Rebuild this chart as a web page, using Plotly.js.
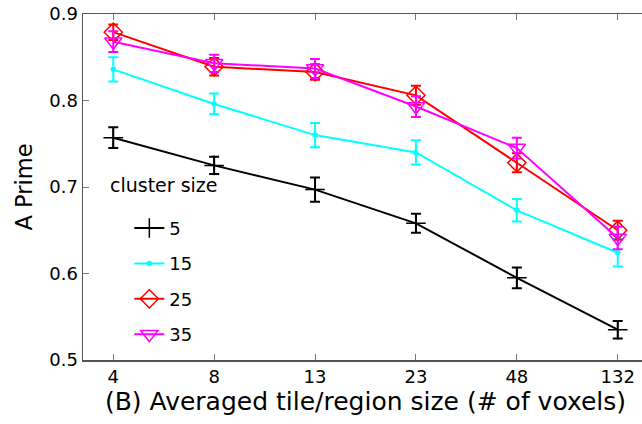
<!DOCTYPE html>
<html><head><meta charset="utf-8">
<script src="https://cdn.plot.ly/plotly-3.0.1.min.js"></script>
<style>html,body{margin:0;padding:0;overflow:hidden;background:#fff;}</style>
</head><body><div id="chart"></div>
<script>
const categories = ["4","8","13","23","48","132"];
const seriesNames = ["5","15","25","35"];
const vals5  = [0.757,0.725,0.697,0.658,0.595,0.535];
const err5   = [0.012,0.010,0.014,0.011,0.012,0.010];
const vals15 = [0.836,0.796,0.760,0.740,0.673,0.624];
const err15  = [0.014,0.012,0.014,0.014,0.013,0.016];
const vals25 = [0.879,0.839,0.833,0.806,0.728,0.650];
const err25  = [0.009,0.010,0.009,0.011,0.011,0.011];
const vals35 = [0.868,0.843,0.837,0.793,0.745,0.641];
const err35  = [0.012,0.010,0.011,0.012,0.012,0.013];
const yTicks = [0.5,0.6,0.7,0.8,0.9];
const legendTitle = "cluster size";

const colors = ["#000000","#00ffff","#ff0000","#ff00ff"];
const symbols = ["cross-thin-open","circle","diamond-open","triangle-down-open"];
const sizes = [14,4,14,15];
const vals = [vals5,vals15,vals25,vals35];
const errs = [err5,err15,err25,err35];

const traces = seriesNames.map((n,i)=>({
  type:"scatter", mode:"lines+markers", name:n, x:categories, y:vals[i],
  legendgroup:"g"+i,
  line:{color:colors[i], width:2},
  marker:{symbol:symbols[i], size:sizes[i], color:colors[i], line:{color:colors[i], width:1.5}},
  error_y:{type:"data", array:errs[i], visible:true, color:colors[i], thickness:2, width:5}
}));

const fnt = "DejaVu Sans, sans-serif";
const layout = {
  width:660, height:424,
  margin:{l:83, r:12, t:14, b:64},
  paper_bgcolor:"#fff", plot_bgcolor:"#fff",
  font:{family:fnt, color:"#000"},
  showlegend:true,
  legend:{x:0.082, y:0.434, xanchor:"left", yanchor:"top", bgcolor:"rgba(0,0,0,0)",
    font:{size:18, family:fnt}, tracegroupgap:9},
  annotations:[{text:legendTitle, xref:"paper", yref:"paper", x:0.044, y:0.506,
    xanchor:"left", yanchor:"middle", showarrow:false, font:{size:19, family:fnt}}],
  xaxis:{type:"category", range:[-0.3,5.3], showline:true, mirror:"ticks", linecolor:"#555", linewidth:1.5,
    ticks:"inside", ticklen:6, tickcolor:"#777", showgrid:false, zeroline:false,
    tickfont:{size:18}, title:{text:"(B) Averaged tile/region size (# of voxels)", font:{size:25}, standoff:2}},
  yaxis:{range:[0.5,0.9], tickvals:yTicks, ticktext:yTicks.map(v=>v.toFixed(1)),
    showline:true, mirror:"ticks", linecolor:"#555", linewidth:1.5,
    ticks:"inside", ticklen:6, tickcolor:"#777", showgrid:false, zeroline:false,
    tickfont:{size:18}, title:{text:"A Prime", font:{size:22.5}, standoff:10}}
};
Plotly.newPlot("chart", traces, layout, {displayModeBar:false, staticPlot:true});
</script></body></html>
